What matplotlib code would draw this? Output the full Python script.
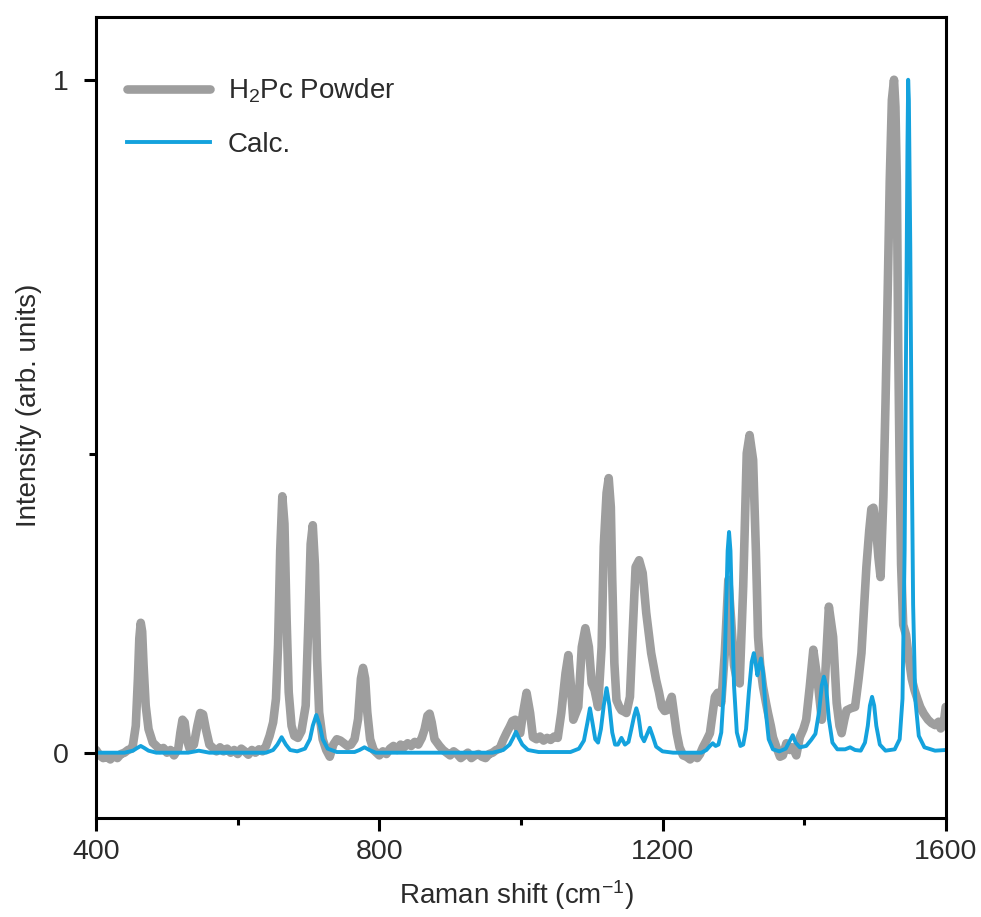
import matplotlib
matplotlib.use("Agg")
import matplotlib.pyplot as plt
from matplotlib.ticker import FixedLocator

plt.rcParams['font.family'] = ['Liberation Sans', 'DejaVu Sans']
plt.rcParams['mathtext.fontset'] = 'custom'
plt.rcParams['mathtext.rm'] = 'Liberation Sans'
plt.rcParams['mathtext.it'] = 'Liberation Sans'

powder = [
    (400, 0.004), (405, -0.004), (410, -0.008), (415, -0.006), (420, -0.010), (425, -0.004),
    (430, -0.008), (435, -0.002), (440, 0.000), (445, 0.004), (450, 0.006), (452, 0.012),
    (456, 0.040), (459, 0.110), (461, 0.170), (463, 0.193), (465, 0.180), (467, 0.130),
    (470, 0.070), (474, 0.035), (480, 0.015), (485, 0.010), (490, 0.004), (495, 0.007),
    (500, 0.000), (505, 0.004), (510, -0.004), (516, 0.006), (519, 0.030), (522, 0.049),
    (525, 0.045), (528, 0.020), (532, 0.006), (538, 0.012), (543, 0.040), (547, 0.059),
    (551, 0.057), (555, 0.035), (560, 0.012), (565, 0.007), (570, 0.002), (575, 0.008),
    (580, 0.002), (585, 0.006), (590, 0.000), (595, 0.004), (600, -0.002), (605, 0.006),
    (610, 0.002), (615, -0.003), (620, 0.004), (625, 0.000), (630, 0.005), (635, 0.002),
    (640, 0.010), (645, 0.025), (650, 0.045), (654, 0.080), (657, 0.160), (660, 0.300),
    (663, 0.381), (666, 0.340), (669, 0.200), (672, 0.090), (676, 0.040), (680, 0.025),
    (685, 0.022), (690, 0.032), (696, 0.070), (700, 0.200), (703, 0.310), (706, 0.338),
    (709, 0.280), (712, 0.140), (715, 0.060), (720, 0.020), (725, 0.004), (730, -0.006),
    (735, 0.012), (740, 0.020), (745, 0.018), (750, 0.014), (755, 0.010), (760, 0.012),
    (765, 0.020), (770, 0.050), (774, 0.110), (777, 0.126), (780, 0.110), (783, 0.060),
    (787, 0.020), (792, 0.004), (800, -0.004), (805, 0.002), (810, -0.002), (815, 0.006),
    (820, 0.010), (825, 0.004), (830, 0.012), (835, 0.008), (840, 0.014), (845, 0.010),
    (850, 0.016), (855, 0.012), (860, 0.022), (864, 0.035), (868, 0.055), (871, 0.058),
    (874, 0.045), (878, 0.020), (885, 0.010), (890, 0.004), (895, 0.000), (900, -0.004),
    (905, 0.002), (910, -0.002), (915, -0.008), (920, -0.004), (925, 0.000), (930, -0.008),
    (935, -0.004), (940, -0.002), (945, -0.006), (950, -0.008), (955, -0.002), (960, 0.000),
    (965, 0.004), (970, 0.006), (975, 0.019), (980, 0.030), (984, 0.038), (988, 0.047),
    (992, 0.049), (996, 0.035), (999, 0.029), (1003, 0.059), (1008, 0.089), (1013, 0.059),
    (1017, 0.023), (1022, 0.020), (1027, 0.024), (1032, 0.018), (1037, 0.022), (1042, 0.019),
    (1047, 0.024), (1052, 0.022), (1057, 0.059), (1063, 0.118), (1067, 0.145), (1070, 0.108),
    (1074, 0.049), (1078, 0.060), (1081, 0.068), (1086, 0.157), (1091, 0.185), (1096, 0.157),
    (1100, 0.103), (1104, 0.093), (1109, 0.068), (1114, 0.157), (1117, 0.306), (1121, 0.386),
    (1124, 0.408), (1127, 0.365), (1129, 0.257), (1132, 0.133), (1135, 0.078), (1139, 0.068),
    (1142, 0.063), (1146, 0.061), (1149, 0.059), (1154, 0.083), (1158, 0.182), (1162, 0.276),
    (1167, 0.286), (1172, 0.267), (1177, 0.208), (1184, 0.148), (1191, 0.108), (1195, 0.090),
    (1199, 0.068), (1203, 0.062), (1206, 0.063), (1210, 0.075), (1213, 0.083), (1216, 0.060),
    (1220, 0.029), (1224, 0.008), (1229, -0.004), (1234, -0.006), (1239, -0.010), (1244, -0.004),
    (1249, -0.008), (1253, -0.002), (1257, 0.008), (1262, 0.018), (1267, 0.029), (1271, 0.060),
    (1274, 0.083), (1278, 0.089), (1283, 0.074), (1288, 0.148), (1293, 0.257), (1297, 0.197),
    (1301, 0.130), (1305, 0.108), (1309, 0.103), (1314, 0.247), (1319, 0.445), (1323, 0.472),
    (1328, 0.435), (1332, 0.297), (1335, 0.172), (1338, 0.130), (1342, 0.098), (1346, 0.075),
    (1349, 0.059), (1353, 0.040), (1356, 0.023), (1361, 0.008), (1366, -0.006), (1370, -0.004),
    (1375, 0.014), (1380, 0.004), (1384, 0.008), (1389, -0.004), (1394, 0.023), (1399, 0.035),
    (1403, 0.049), (1408, 0.098), (1413, 0.153), (1419, 0.108), (1425, 0.049), (1429, 0.098),
    (1435, 0.217), (1441, 0.172), (1446, 0.074), (1450, 0.040), (1453, 0.029), (1457, 0.050),
    (1460, 0.063), (1466, 0.066), (1472, 0.068), (1477, 0.110), (1481, 0.148), (1485, 0.220),
    (1488, 0.276), (1492, 0.330), (1495, 0.362), (1498, 0.364), (1502, 0.330), (1505, 0.290),
    (1508, 0.261), (1512, 0.380), (1515, 0.520), (1518, 0.680), (1521, 0.850), (1524, 0.970),
    (1527, 1.000), (1529, 0.960), (1531, 0.850), (1533, 0.600), (1535, 0.420), (1537, 0.280),
    (1540, 0.190), (1544, 0.175), (1548, 0.140), (1552, 0.110), (1556, 0.093), (1560, 0.080),
    (1564, 0.068), (1569, 0.058), (1575, 0.049), (1580, 0.044), (1585, 0.041), (1590, 0.046),
    (1593, 0.036), (1596, 0.040), (1598, 0.050), (1600, 0.068),
]

# calculated spectrum
calc = [
    (400, 0.000), (440, 0.000), (452, 0.003), (458, 0.007), (463, 0.010), (468, 0.007),
    (474, 0.003), (485, 0.000), (530, 0.000), (545, 0.003), (560, 0.000), (640, 0.000),
    (650, 0.004), (656, 0.012), (662, 0.023), (668, 0.012), (674, 0.004), (684, 0.002),
    (695, 0.006), (702, 0.020), (706, 0.040), (711, 0.056), (716, 0.040), (720, 0.020),
    (727, 0.006), (740, 0.001), (765, 0.001), (772, 0.004), (779, 0.008), (786, 0.004),
    (795, 0.000), (960, 0.000), (975, 0.004), (984, 0.012), (989, 0.022), (993, 0.031),
    (997, 0.022), (1002, 0.012), (1010, 0.004), (1025, 0.001), (1070, 0.001), (1082, 0.006),
    (1089, 0.018), (1094, 0.045), (1097.5, 0.066), (1101, 0.045), (1105, 0.020), (1109, 0.015),
    (1113, 0.035), (1117, 0.070), (1121, 0.096), (1125, 0.070), (1129, 0.030), (1133, 0.012),
    (1137, 0.012), (1142, 0.022), (1147, 0.012), (1152, 0.016), (1156, 0.035), (1160, 0.055),
    (1163, 0.066), (1166, 0.055), (1170, 0.025), (1174, 0.017), (1178, 0.027), (1182, 0.037),
    (1186, 0.025), (1191, 0.009), (1200, 0.002), (1215, 0.000), (1255, 0.000), (1262, 0.004),
    (1267, 0.010), (1271, 0.014), (1275, 0.010), (1279, 0.012), (1283, 0.030), (1287, 0.100),
    (1290, 0.220), (1292, 0.300), (1294, 0.328), (1296, 0.300), (1298, 0.220), (1301, 0.100),
    (1305, 0.030), (1310, 0.010), (1314, 0.012), (1318, 0.035), (1322, 0.090), (1326, 0.135),
    (1329, 0.148), (1332, 0.130), (1334, 0.115), (1336, 0.125), (1339, 0.140), (1342, 0.120),
    (1346, 0.060), (1350, 0.020), (1356, 0.005), (1365, 0.002), (1374, 0.006), (1380, 0.018),
    (1384, 0.026), (1388, 0.015), (1394, 0.008), (1403, 0.010), (1410, 0.019), (1416, 0.028),
    (1421, 0.060), (1425, 0.100), (1428, 0.113), (1431, 0.100), (1435, 0.050), (1440, 0.015),
    (1447, 0.005), (1458, 0.005), (1465, 0.008), (1472, 0.004), (1480, 0.003), (1486, 0.015),
    (1490, 0.040), (1493, 0.070), (1496, 0.083), (1499, 0.070), (1502, 0.040), (1507, 0.012),
    (1515, 0.003), (1528, 0.005), (1535, 0.020), (1539, 0.080), (1542, 0.300), (1544, 0.600),
    (1546, 0.900), (1547, 1.000), (1548, 0.970), (1550, 0.750), (1552, 0.450), (1554, 0.220),
    (1557, 0.080), (1562, 0.025), (1570, 0.008), (1585, 0.003), (1600, 0.004),
]

powder_x, powder_y = zip(*powder)
calc_x, calc_y = zip(*calc)

fig = plt.figure(figsize=(9.81, 9.17), dpi=100)
ax = fig.add_axes([0.098, 0.108, 0.866, 0.874])

ax.plot(powder_x, powder_y, color='#9e9e9e', lw=6.2, solid_capstyle='round',
        solid_joinstyle='round', label='H$_2$Pc Powder')
ax.plot(calc_x, calc_y, color='#14a2dd', lw=2.8, solid_joinstyle='round',
        label='Calc.')

ax.set_xlim(400, 1600)
ax.set_ylim(-0.097, 1.094)
ax.set_xticks([400, 800, 1200, 1600])
ax.xaxis.set_minor_locator(FixedLocator([600, 1000, 1400]))
ax.set_yticks([0, 1])
ax.set_yticklabels(['0', '1'])
ax.yaxis.set_minor_locator(FixedLocator([0.444]))

for s in ax.spines.values():
    s.set_linewidth(2.2)
ax.tick_params(which='major', length=9, width=2.2, labelsize=20.5, labelcolor='#2b2b2b')
ax.tick_params(which='minor', length=5, width=2.2)
ax.tick_params(axis='y', which='major', pad=11)
ax.tick_params(axis='x', which='major', pad=6)

ax.set_xlabel('Raman shift (cm$^{-1}$)', fontsize=20, color='#2b2b2b')
ax.set_ylabel('Intensity (arb. units)', fontsize=20, color='#2b2b2b')
ax.xaxis.set_label_coords(0.495, -0.075)
ax.yaxis.set_label_coords(-0.064, 0.515)

leg = ax.legend(loc='upper left', bbox_to_anchor=(0.036, 0.925), frameon=False,
                fontsize=20, handlelength=3.0, handletextpad=0.65, labelspacing=0.95,
                borderpad=0, borderaxespad=0)
for t in leg.get_texts():
    t.set_color('#2b2b2b')

fig.savefig('out.png', dpi=100)
